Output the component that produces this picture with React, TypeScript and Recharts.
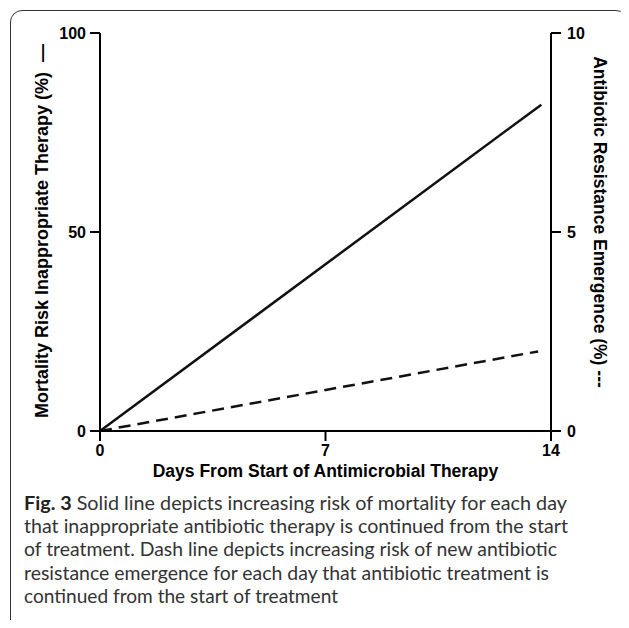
import React from 'react';
import { LineChart, Line, XAxis, YAxis } from 'recharts';

const dayTicks = [0, 7, 14];
const mortalityTicks = [0, 50, 100];
const resistanceTicks = [0, 5, 10];

const mortalityDays = [0, 13.7];
const mortalityValues = [0, 82];
const resistanceDays = [0, 13.6];
const resistanceValues = [0, 2.0];

const xLabel = 'Days From Start of Antimicrobial Therapy';
const leftLabel = 'Mortality Risk Inappropriate Therapy (%)  \u2014';
const rightLabel = 'Antibiotic Resistance Emergence (%) ---';

const captionLines = [
  'Solid line depicts increasing risk of mortality for each day',
  'that inappropriate antibiotic therapy is continued from the start',
  'of treatment. Dash line depicts increasing risk of new antibiotic',
  'resistance emergence for each day that antibiotic treatment is',
  'continued from the start of treatment',
];
const captionLengths = [543, 544, 533, 525, 314];

const mortalityData = mortalityDays.map((d, i) => ({ day: d, v: mortalityValues[i] }));
const resistanceData = resistanceDays.map((d, i) => ({ day: d, v: resistanceValues[i] }));

const FONT = '"Liberation Sans", Arial, Helvetica, sans-serif';
const tickStyle = { fill: '#000', fontSize: 16, fontWeight: 700, fontFamily: FONT };
const axisStroke = { stroke: '#000', strokeWidth: 2 };
const titleStyle = { fontSize: 17.5, fontWeight: 700, fontFamily: FONT, fill: '#000', whiteSpace: 'pre' as const };

const LeftLabel = (props: any) => {
  const vb = props.viewBox || {};
  const cx = vb.x + 42;
  const cy = vb.y + vb.height / 2 - 1;
  return (
    <text x={cx} y={cy} transform={`rotate(-90 ${cx} ${cy})`} textAnchor="middle" dominantBaseline="central"
      style={{ ...titleStyle, fontSize: 18 }}>
      {leftLabel}
    </text>
  );
};

const RightLabel = (props: any) => {
  const vb = props.viewBox || {};
  const cx = vb.x + 49;
  const cy = vb.y + vb.height / 2 - 10;
  return (
    <text x={cx} y={cy} transform={`rotate(90 ${cx} ${cy})`} textAnchor="middle" dominantBaseline="central" style={titleStyle}>
      {rightLabel}
    </text>
  );
};

const BottomLabel = (props: any) => {
  const vb = props.viewBox || {};
  const cx = vb.x + vb.width / 2;
  const cy = vb.y + 40;
  return (
    <text x={cx} y={cy} textAnchor="middle" dominantBaseline="central" style={titleStyle}>
      {xLabel}
    </text>
  );
};

export default function App() {
  return (
    <div style={{ position: 'relative', width: 629, height: 628, margin: -8, overflow: 'hidden', background: '#fff' }}>
      <div style={{
        position: 'absolute', left: 10, top: 10, width: 618, height: 700, boxSizing: 'border-box',
        border: '1.5px solid #333', borderRadius: 12,
      }} />
      <div style={{ position: 'absolute', left: 0, top: 0 }}>
        <LineChart width={629} height={482} margin={{ top: 33, right: 0, bottom: 0, left: 0 }}>
          <XAxis
            type="number"
            dataKey="day"
            domain={[0, 14]}
            ticks={dayTicks}
            allowDuplicatedCategory={false}
            tick={tickStyle}
            tickSize={10}
            tickMargin={4}
            axisLine={axisStroke}
            tickLine={axisStroke}
            height={51}
            label={BottomLabel}
          />
          <YAxis
            yAxisId="left"
            orientation="left"
            domain={[0, 100]}
            ticks={mortalityTicks}
            tick={tickStyle}
            tickSize={10}
            tickMargin={4}
            axisLine={axisStroke}
            tickLine={axisStroke}
            width={100}
            label={LeftLabel}
          />
          <YAxis
            yAxisId="right"
            orientation="right"
            domain={[0, 10]}
            ticks={resistanceTicks}
            tick={tickStyle}
            tickSize={10}
            tickMargin={6}
            axisLine={axisStroke}
            tickLine={axisStroke}
            width={78}
            label={RightLabel}
          />
          <Line
            yAxisId="left"
            data={mortalityData}
            dataKey="v"
            type="linear"
            stroke="#111"
            strokeWidth={2.5}
            dot={false}
            activeDot={false}
            isAnimationActive={false}
          />
          <Line
            yAxisId="right"
            data={resistanceData}
            dataKey="v"
            type="linear"
            stroke="#111"
            strokeWidth={2.5}
            strokeDasharray="12 7"
            dot={false}
            activeDot={false}
            isAnimationActive={false}
          />
        </LineChart>
      </div>
      <svg width={629} height={628} style={{ position: 'absolute', left: 0, top: 0, pointerEvents: 'none' }}>
        {captionLines.map((line, i) => (
          <text
            key={i}
            x={24}
            y={510 + i * 23.2}
            textLength={captionLengths[i]}
            lengthAdjust="spacingAndGlyphs"
            style={{ fontSize: 19, fontFamily: 'Lato, "Open Sans", sans-serif', fill: '#333' }}
          >
            {i === 0 ? (
              <>
                <tspan style={{ fontWeight: 700, fill: '#222' }}>Fig. 3</tspan>
                <tspan>{'  ' + line}</tspan>
              </>
            ) : line}
          </text>
        ))}
      </svg>
    </div>
  );
}
